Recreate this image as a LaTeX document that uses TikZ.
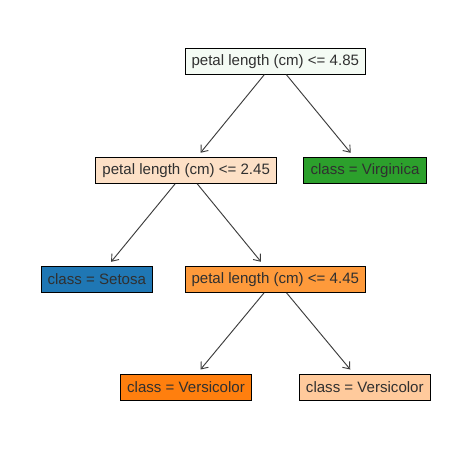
\documentclass[tikz,border=0pt]{standalone}
\usepackage{fontspec}
\setmainfont{Liberation Sans}
\usetikzlibrary{arrows.meta}
\definecolor{txt}{HTML}{303030}
\definecolor{arr}{HTML}{3C3C3C}
\definecolor{froot}{HTML}{F4FBF4}
\definecolor{fa}{HTML}{FDE0C6}
\definecolor{fvirg}{HTML}{2CA02C}
\definecolor{fset}{HTML}{1F77B4}
\definecolor{fb}{HTML}{FE9A3B}
\definecolor{fvers}{HTML}{FF7F0E}
\definecolor{fversl}{HTML}{FFCA9C}
\tikzset{
  treebox/.style={draw=black, line width=0.75pt, rectangle, text=txt,
    font=\fontsize{11.3pt}{13pt}\selectfont, inner xsep=4.9pt, inner ysep=0pt,
    minimum height=19.5pt, anchor=center},
  edge/.style={draw=arr, line width=0.7pt,
    -{Straight Barb[length=4.5pt,width=7pt,line width=0.7pt]}, shorten >=3.9pt}
}
\begin{document}
\begin{tikzpicture}[x=0.75pt,y=-0.75pt]
\useasboundingbox (0,0) rectangle (460,449);
\fill[white] (0,0) rectangle (460,449);
\node[treebox, fill=froot] (root) at (275.3,61.2) {petal length (cm) <= 4.85};
\node[treebox, fill=fa] (n1) at (186.2,170.3) {petal length (cm) <= 2.45};
\node[treebox, fill=fvirg] (virg) at (365,170.3) {class = Virginica};
\node[treebox, fill=fset] (set) at (96.8,279.3) {class = Setosa};
\node[treebox, fill=fb] (n2) at (275.3,279.3) {petal length (cm) <= 4.45};
\node[treebox, fill=fvers] (v1) at (186,387) {class = Versicolor};
\node[treebox, fill=fversl] (v2) at (364.8,387) {class = Versicolor};
\draw[edge] (root) -- (n1);
\draw[edge] (root) -- (virg);
\draw[edge] (n1) -- (set);
\draw[edge] (n1) -- (n2);
\draw[edge] (n2) -- (v1);
\draw[edge] (n2) -- (v2);
\end{tikzpicture}
\end{document}
